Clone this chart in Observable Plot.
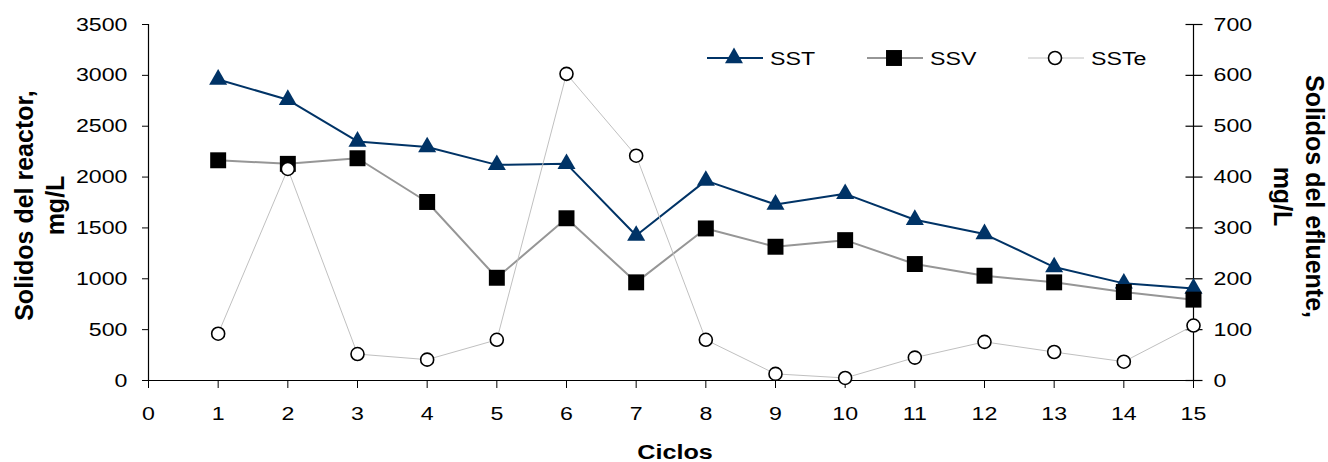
<!DOCTYPE html>
<html><head><meta charset="utf-8">
<script src="https://cdn.jsdelivr.net/npm/d3@7"></script>
<script src="https://cdn.jsdelivr.net/npm/@observablehq/plot@0.6"></script>
<style>
body{margin:0;background:#fff;}
#wrap{position:relative;width:1328px;height:462px;font-family:"Liberation Sans",Arial,sans-serif;}
#legend{position:absolute;left:0;top:0;pointer-events:none;}
</style></head><body><div id="wrap"></div>
<script>
// ---- data ----
const ciclos = [1,2,3,4,5,6,7,8,9,10,11,12,13,14,15];
const sst  = [2960,2760,2350,2295,2120,2130,1425,1965,1730,1835,1580,1440,1115,955,905];
const ssv  = [2165,2130,2185,1755,1010,1595,965,1495,1315,1380,1145,1030,965,870,795];
const sste = [92,416,52,41,80,603,442,80,13,5,45,76,56,37,108];
const xTicks = [0,1,2,3,4,5,6,7,8,9,10,11,12,13,14,15];
const yLeftTicks = [0,500,1000,1500,2000,2500,3000,3500];
const yRightTicks = [0,100,200,300,400,500,600,700];
const seriesNames = ["SST","SSV","SSTe"];
const ratio = 3500/700;

const rowsSST = ciclos.map((c,i)=>({c, v: sst[i]}));
const rowsSSV = ciclos.map((c,i)=>({c, v: ssv[i]}));
const rowsSSTe = ciclos.map((c,i)=>({c, v: sste[i]*ratio}));

const navy = "#003366", gray = "#969696", light = "#c0c0c0";
const crossTick = {draw(ctx){ctx.moveTo(-8,0);ctx.lineTo(9,0);}};
const fmt = d => String(Math.round(d));

const plot = Plot.plot({
  width: 1328, height: 462,
  marginLeft: 148, marginRight: 135, marginTop: 24, marginBottom: 82,
  style: {fontFamily: '"Liberation Sans", Arial, sans-serif', fontSize: "19px", color: "#000", background: "#fff"},
  x: {domain: [0, 15]},
  y: {domain: [0, 3500]},
  marks: [
    Plot.axisX({ticks: xTicks, tickFormat: fmt, tickSize: 8, tickPadding: 18, label: null, fontSize: 19}),
    Plot.axisY({ticks: yLeftTicks, tickFormat: fmt, tickSize: 6, tickPadding: 15, label: null, fontSize: 19}),
    Plot.axisY({anchor: "right", ticks: yRightTicks.map(d=>d*ratio), tickFormat: d => fmt(d/ratio), tickSize: 0, tickPadding: 20, label: null, fontSize: 19}),
    Plot.dot(yRightTicks.map(d=>d*ratio), {x: () => 15, y: d => d, symbol: crossTick, stroke: "#000", strokeWidth: 1.2, r: 5}),
    Plot.ruleY([0], {stroke: "#000", strokeWidth: 1.2}),
    Plot.ruleX([0, 15], {stroke: "#000", strokeWidth: 1.2}),
    Plot.text(["Solidos del reactor,\nmg/L"], {frameAnchor: "left", textAnchor: "middle", lineAnchor: "middle", rotate: -90, dx: -110, dy: 3, fontWeight: "bold", fontSize: 25, lineHeight: 1.25, fill: "#000"}),
    Plot.text(["Solidos del efluente,\nmg/L"], {frameAnchor: "right", textAnchor: "middle", lineAnchor: "middle", rotate: 90, dx: 107, dy: -6, fontWeight: "bold", fontSize: 25, lineHeight: 1.3, fill: "#000"}),
    Plot.text(["Ciclos"], {frameAnchor: "bottom", textAnchor: "middle", dx: 4, dy: 78, fontWeight: "bold", fontSize: 21, fill: "#000", className: "stretch"}),
    // SST
    Plot.line(rowsSST, {x: "c", y: "v", stroke: navy, strokeWidth: 2}),
    Plot.dot(rowsSST, {x: "c", y: "v", symbol: "triangle", r: 6.7, fill: navy}),
    // SSV
    Plot.line(rowsSSV, {x: "c", y: "v", stroke: gray, strokeWidth: 2}),
    Plot.dot(rowsSSV, {x: "c", y: "v", symbol: "square", r: 9, fill: "#000"}),
    // SSTe
    Plot.line(rowsSSTe, {x: "c", y: "v", stroke: light, strokeWidth: 1}),
    Plot.dot(rowsSSTe, {x: "c", y: "v", symbol: "circle", r: 6.5, fill: "#fff", stroke: "#000", strokeWidth: 1.6})
  ]
});

// horizontal stretch of text about its anchor (keeps vertical offsets)
function stretch(t, s) {
  const xa = t.getAttribute('x');
  let x = 0;
  if (xa !== null && /^-?[\d.]+$/.test(xa.trim())) { x = +xa; t.removeAttribute('x'); }
  const tr = t.getAttribute('transform') || '';
  t.setAttribute('transform', `${tr} translate(${x},0) scale(${s},1)`);
}
plot.querySelectorAll('g[aria-label$="tick label"] text').forEach(t => stretch(t, 1.22));
plot.querySelectorAll('.stretch text').forEach(t => stretch(t, 1.2));

const wrap = document.getElementById('wrap');
wrap.appendChild(plot);

// ---- legend (overlay svg) ----
const leg = d3.select(wrap).append("svg").attr("id","legend").attr("width",1328).attr("height",462);
const legSpec = [
  {name: seriesNames[0], x0: 707, stroke: navy, sw: 2, sym: d3.symbolTriangle, size: 140, fill: navy, mstroke: "none", msw: 0},
  {name: seriesNames[1], x0: 867, stroke: gray, sw: 2, sym: d3.symbolSquare, size: 254, fill: "#000", mstroke: "none", msw: 0},
  {name: seriesNames[2], x0: 1028, stroke: light, sw: 1, sym: d3.symbolCircle, size: 133, fill: "#fff", mstroke: "#000", msw: 1.6}
];
legSpec.forEach(s => {
  const g = leg.append("g").attr("transform", `translate(${s.x0},58)`);
  g.append("line").attr("x1",0).attr("x2",56).attr("stroke",s.stroke).attr("stroke-width",s.sw);
  g.append("path").attr("d", d3.symbol(s.sym, s.size)()).attr("transform","translate(27,0)").attr("fill",s.fill).attr("stroke",s.mstroke).attr("stroke-width",s.msw);
  g.append("text").attr("transform","translate(63,6.5) scale(1.22,1)").attr("font-size",19)
    .attr("font-family",'"Liberation Sans", Arial, sans-serif').attr("fill","#000").text(s.name);
});
</script>
</body></html>
